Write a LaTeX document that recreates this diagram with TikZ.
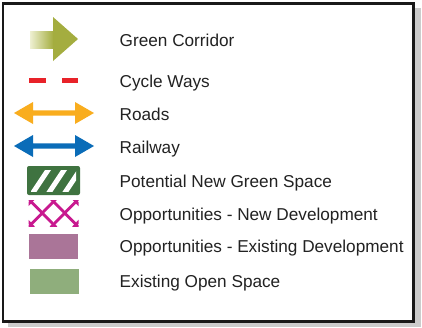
\documentclass[tikz,border=0pt]{standalone}
\usepackage{fontspec}
\setmainfont{Liberation Sans}
\usetikzlibrary{positioning}

\definecolor{corridorolive}{HTML}{A4AD3F}
\definecolor{corridorcream}{HTML}{EEF0D2}
\definecolor{cyclered}{HTML}{E82229}
\definecolor{roadorange}{HTML}{F9AD1E}
\definecolor{railblue}{HTML}{0A6CB8}
\definecolor{greenspace}{HTML}{3F7340}
\definecolor{devmagenta}{HTML}{C8198F}
\definecolor{devmauve}{HTML}{AA7598}
\definecolor{openspace}{HTML}{8FAE7C}
\definecolor{legendtext}{HTML}{222222}

\tikzset{
	legendlabel/.style={anchor=base west, inner sep=0pt, text=legendtext,
		font=\fontsize{17.2}{20}\selectfont},
}

\begin{document}
\begin{tikzpicture}[x=1pt, y=-1pt]
	\useasboundingbox (0,0) rectangle (422,327);
	
	% frame with shadow
	\fill [black!20] (8,8) rectangle (421,327);
	\draw [line width=2.6pt, draw=black!90, fill=white] (3,3.5) rectangle (413.5,321.5);
	
	% green corridor
	\shade [left color=corridorcream, right color=corridorolive] (30,31) rectangle (53.5,48);
	\fill [corridorolive] (53,17) -- (78,39) -- (53,61) -- cycle;
	\node [legendlabel] (corridor) at (119.5,46) {Green Corridor};
	
	% cycle ways
	\fill [cyclered] (29,78.3) rectangle (46,83.3);
	\fill [cyclered] (62,78.3) rectangle (78,83.3);
	\node [legendlabel] (cycle) at (119.5,87.7) {Cycle Ways};
	
	% roads and railway
	\foreach \ypos/\col in {113/roadorange, 146/railblue}
		\fill [\col, shift={(0,\ypos)}] (14,0) -- (33,-11) -- (33,-2.7) -- (75,-2.7) -- (75,-11)
			-- (94,0) -- (75,11) -- (75,2.7) -- (33,2.7) -- (33,11) -- cycle;
	\node [legendlabel] (roads) at (119.5,120.7) {Roads};
	\node [legendlabel] (railway) at (119.5,153.3) {Railway};
	
	% potential new green space
	\fill [greenspace, rounded corners=2pt] (27,166) rectangle (80,195);
	\begin{scope}
		\clip (31,170) rectangle (76,191);
		\foreach \x in {34,50,66,82}
			\draw [white, line width=5pt] (\x-3,195.5) -- ++(20,-30);
	\end{scope}
	\node [legendlabel] (greenspace) at (119.5,187.3) {Potential New Green Space};
	
	% new development
	\begin{scope}
		\clip (28.5,200) rectangle (78.5,226);
		\foreach \x in {-14,8.5,31,53.5,76}
			\draw [devmagenta, line width=2.8pt, shorten <=-4pt, shorten >=-4pt] (\x,201.5) -- ++(22.5,23);
		\foreach \x in {31,53.5,76,98.5}
			\draw [devmagenta, line width=2.8pt, shorten <=-4pt, shorten >=-4pt] (\x,201.5) -- ++(-22.5,23);
	\end{scope}
	\node [legendlabel] (newdev) at (119.5,220) {Opportunities - New Development};
	
	% existing development
	\fill [devmauve] (29,234) rectangle (78,259);
	\node [legendlabel] (existdev) at (119.5,252.3) {Opportunities - Existing Development};
	
	% existing open space
	\fill [openspace] (30,269) rectangle (79,293.5);
	\node [legendlabel] (openspace) at (119.5,287.7) {Existing Open Space};
	
\end{tikzpicture}
\end{document}
